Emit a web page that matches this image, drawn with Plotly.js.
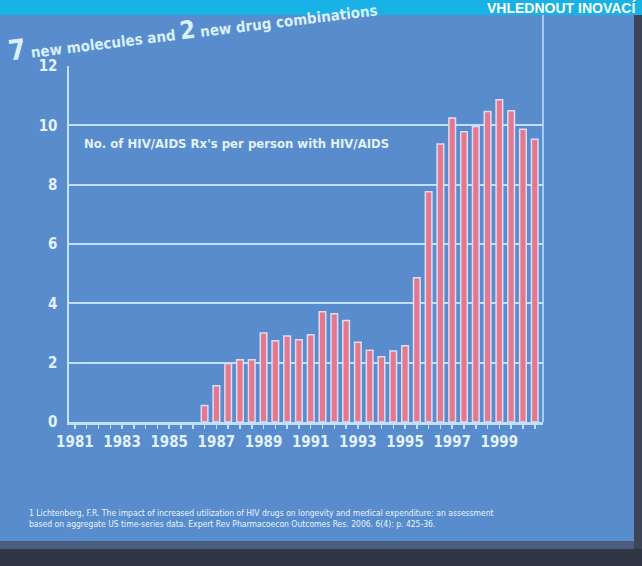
<!DOCTYPE html>
<html>
<head>
<meta charset="utf-8">
<script src="https://cdn.plot.ly/plotly-3.0.1.min.js"></script>
<style>
  html, body { margin: 0; padding: 0; background: #588ccd; }
  #chart { width: 642px; height: 566px; }
</style>
</head>
<body>
<div id="chart"></div>
<script>
// Half-year periods (year + 0.5 = second half)
const periods = [1986.5, 1987.0, 1987.5, 1988.0, 1988.5, 1989.0, 1989.5, 1990.0, 1990.5, 1991.0,
                 1991.5, 1992.0, 1992.5, 1993.0, 1993.5, 1994.0, 1994.5, 1995.0, 1995.5, 1996.0,
                 1996.5, 1997.0, 1997.5, 1998.0, 1998.5, 1999.0, 1999.5, 2000.0, 2000.5];
// No. of HIV/AIDS Rx's per person with HIV/AIDS
const rxPerPerson = [0.56, 1.22, 1.97, 2.1, 2.1, 3.0, 2.74, 2.9, 2.77, 2.94,
                     3.72, 3.65, 3.42, 2.69, 2.42, 2.2, 2.39, 2.57, 4.86, 7.76,
                     9.37, 10.25, 9.78, 9.96, 10.47, 10.86, 10.49, 9.87, 9.53];
const yearTicks = [1981, 1983, 1985, 1987, 1989, 1991, 1993, 1995, 1997, 1999];
const yearTickText = ["1981", "1983", "1985", "1987", "1989", "1991", "1993", "1995", "1997", "1999"];
const yTicks = [0, 2, 4, 6, 8, 10, 12];

const seriesLabel = "No. of HIV/AIDS Rx's per person with HIV/AIDS";
const titleText = "<span style=\"font-size:28px\">7</span> new molecules and <span style=\"font-size:25px\">2</span> new drug combinations";
const headerText = "VHLEDNOUT INOVACÍ";
const footnote1 = "1 Lichtenberg, F.R. The impact of increased utilization of HIV drugs on longevity and medical expenditure: an assessment";
const footnote2 = "based on aggregate US time-series data. Expert Rev Pharmacoecon Outcomes Res. 2006. 6(4): p. 425-36.";

const narrow = "DejaVu Sans Condensed, Liberation Sans Narrow, Arial Narrow, Liberation Sans, sans-serif";
const lineCol = "#bfe0ff";
const textCol = "#e2f2ff";

const trace = {
  type: "bar",
  x: periods,
  y: rxPerPerson,
  width: 0.28,
  marker: { color: "#e6788c", line: { color: "#dcdcf6", width: 1.5 } },
  hoverinfo: "x+y"
};

// plot area: left 69, right 543, top 66, bottom 422
const W = 642, H = 566, L = 69, R = 99, T = 66, B = 144;
const pw = W - L - R, ph = H - T - B;
const px2x = p => (p - L) / pw;
const py2y = p => (H - B - p) / ph;

const layout = {
  width: W, height: H,
  margin: { l: L, r: R, t: T, b: B, pad: 0 },
  paper_bgcolor: "#588ccd",
  plot_bgcolor: "rgba(0,0,0,0)",
  showlegend: false,
  font: { family: narrow, color: textCol },
  xaxis: {
    range: [1980.75, 2000.85],
    tickmode: "array", tickvals: yearTicks, ticktext: yearTickText,
    tickfont: { family: narrow, size: 15, color: textCol, weight: "bold" },
    ticks: "outside", ticklen: 4, tickcolor: lineCol, tickwidth: 1.5,
    minor: { dtick: 0.5, tick0: 1981, ticks: "outside", ticklen: 4, tickcolor: lineCol, tickwidth: 1.5, showgrid: false },
    showgrid: false, zeroline: false,
    showline: true, linecolor: lineCol, linewidth: 2.5,
    fixedrange: true
  },
  yaxis: {
    range: [0, 12],
    tickmode: "array", tickvals: yTicks,
    tickfont: { family: narrow, size: 15, color: textCol, weight: "bold" },
    ticks: "", ticklabelstandoff: 6,
    showgrid: true, gridcolor: lineCol, gridwidth: 2,
    zeroline: false,
    showline: true, linecolor: lineCol, linewidth: 2.5,
    fixedrange: true
  },
  shapes: [
    // right border of chart frame
    { type: "line", xref: "paper", yref: "paper", x0: 1, x1: 1, y0: 0, y1: py2y(15), line: { color: lineCol, width: 1.5 } },
    // header band
    { type: "rect", xref: "paper", yref: "paper", x0: px2x(0), x1: px2x(W + 2), y0: py2y(15), y1: py2y(-2), fillcolor: "#18b2e7", line: { width: 0 } },
    // dark bottom edge of the photographed screen
    { type: "rect", xref: "paper", yref: "paper", x0: px2x(0), x1: px2x(W + 2), y0: py2y(541), y1: py2y(549), fillcolor: "#4b5d7e", line: { width: 0 } },
    { type: "rect", xref: "paper", yref: "paper", x0: px2x(0), x1: px2x(W + 2), y0: py2y(549), y1: py2y(H + 2), fillcolor: "#303643", line: { width: 0 } },
    // dark right edge
    { type: "rect", xref: "paper", yref: "paper", x0: px2x(634), x1: px2x(W + 2), y0: py2y(549), y1: py2y(15), fillcolor: "#3c4556", line: { width: 0 } }
  ],
  annotations: [
    { text: seriesLabel, xref: "x", yref: "y", x: 1981.3, y: 9.72, xanchor: "left", yanchor: "top",
      showarrow: false, font: { family: narrow, size: 13, color: textCol, weight: "bold" } },
    { text: titleText, xref: "paper", yref: "paper", x: px2x(4), y: py2y(70), xanchor: "left", yanchor: "bottom",
      textangle: -7, showarrow: false, font: { family: narrow, size: 15, color: "#d8f0ff", weight: "bold" } },
    { text: footnote1 + "<br>" + footnote2, xref: "paper", yref: "paper", x: px2x(27), y: py2y(506), xanchor: "left", yanchor: "top",
      align: "left", showarrow: false, font: { family: narrow, size: 8.5, color: "#e8f4ff" } },
    { text: headerText, xref: "paper", yref: "paper", x: px2x(638), y: py2y(7.5), xanchor: "right", yanchor: "middle",
      showarrow: false, font: { family: "Liberation Sans, Arial, sans-serif", size: 14, color: "#ffffff", weight: "bold" } }
  ]
};

Plotly.newPlot("chart", [trace], layout, { displayModeBar: false, staticPlot: true });
</script>
</body>
</html>
